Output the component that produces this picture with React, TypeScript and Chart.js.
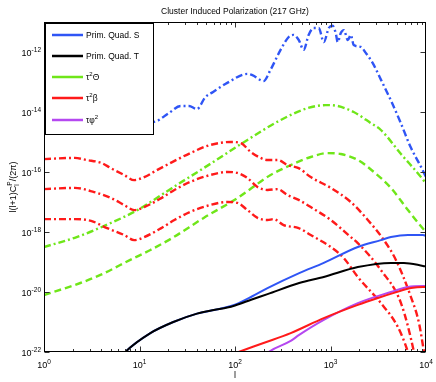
import React, { useEffect, useRef } from "react";
import { Chart, registerables } from "chart.js";
Chart.register(...registerables);

const FONT = '"Liberation Sans", Arial, Helvetica, sans-serif';

const chartTitle = "Cluster Induced Polarization (217 GHz)";
const xAxisLabel = "l";
const xTickExponents = [0, 1, 2, 3, 4];
const yTickExponents = [-22, -20, -18, -16, -14, -12];

// ---- data: multipole l and log10 of l(l+1)C_l/(2pi) ----
const quadSDashL = [1, 5, 10, 14, 20, 27, 33, 40, 49, 59, 83, 135, 152, 199, 235, 300, 365, 410, 465, 524, 590, 667, 753, 850, 960, 1050, 1135, 1190, 1280, 1380, 1520, 1630, 1750, 2080, 2340, 2770, 3380, 4270, 5450, 6900, 8870, 10000];
const quadSDashLog = [-14.0, -14.1, -14.2, -14.33, -14.05, -13.8, -13.8, -13.9, -13.5, -13.33, -13.03, -12.73, -12.77, -12.97, -12.6, -11.93, -11.5, -11.43, -11.6, -11.93, -11.43, -11.2, -11.2, -11.67, -11.2, -11.12, -11.37, -11.67, -11.37, -11.27, -11.6, -11.43, -11.77, -11.83, -12.03, -12.37, -12.93, -13.6, -14.37, -15.17, -15.83, -16.17];

const thetaDashDotL = [1, 2.2, 5, 9.5, 22, 59, 135, 300, 577, 891, 1190, 1750, 2645, 3370, 5470, 9530, 10000];
const thetaDashDotLog = [-18.5, -18.17, -17.7, -17.27, -16.53, -15.67, -14.93, -14.27, -13.87, -13.77, -13.8, -14.0, -14.37, -14.6, -15.4, -16.3, -16.4];

const thetaDashedL = [1, 2.4, 3.9, 8, 13, 22, 47, 106, 236, 383, 621, 935, 1282, 1932, 2845, 4290, 6470, 9530, 10000];
const thetaDashedLog = [-20.1, -19.7, -19.43, -18.93, -18.6, -18.2, -17.53, -16.87, -16.1, -15.77, -15.5, -15.37, -15.4, -15.6, -16.0, -16.53, -17.27, -17.93, -18.0];

const betaDashDot1L = [1, 2.1, 2.8, 4, 5, 6.9, 8.8, 11.2, 15.4, 22, 34, 55, 90, 114, 146, 185, 219, 279, 356, 464, 621, 1006, 1632, 2460, 3625, 4840, 6960, 8440, 9530, 10000];
const betaDashDot1Log = [-15.57, -15.53, -15.6, -15.7, -15.87, -16.1, -16.27, -16.17, -15.93, -15.67, -15.37, -15.1, -15.0, -15.03, -15.33, -15.53, -15.6, -15.6, -15.77, -15.87, -16.17, -16.53, -17.0, -17.6, -18.27, -18.93, -20.17, -21.03, -22.0, -22.4];

const betaDashDot2L = [1, 2.1, 3.35, 5.05, 6.9, 8.8, 11.2, 16.9, 23.2, 34, 55, 83, 106, 135, 172, 219, 279, 356, 464, 621, 1006, 1632, 1932, 3370, 5470, 7480, 8000];
const betaDashDot2Log = [-16.57, -16.53, -16.67, -16.87, -17.1, -17.27, -17.17, -16.87, -16.6, -16.33, -16.1, -16.0, -16.03, -16.2, -16.5, -16.6, -16.57, -16.77, -16.93, -17.17, -17.6, -18.17, -18.37, -19.27, -20.37, -22.0, -22.5];

const betaDashDot3L = [1, 2.1, 3.11, 4.58, 6.9, 8.8, 11.2, 16.9, 23.2, 34, 55, 83, 106, 135, 172, 219, 254, 323, 464, 621, 1006, 1377, 1932, 3370, 5080, 6470, 7000];
const betaDashDot3Log = [-17.57, -17.57, -17.63, -17.87, -18.1, -18.27, -18.17, -17.87, -17.6, -17.33, -17.1, -17.0, -17.03, -17.27, -17.53, -17.6, -17.57, -17.77, -17.87, -18.1, -18.5, -18.87, -19.5, -20.37, -21.17, -22.0, -22.4];

const quadSL = [5, 7.1, 13, 22.6, 40, 60, 83, 100, 150, 219, 470, 850, 1932, 3370, 4290, 6470, 9300, 10000];
const quadSLog = [-22.6, -22.0, -21.37, -21.0, -20.72, -20.6, -20.5, -20.42, -20.15, -19.87, -19.37, -19.03, -18.5, -18.27, -18.17, -18.1, -18.1, -18.13];

const quadTL = [5, 7.1, 13, 22.6, 40, 60, 83, 100, 150, 219, 470, 850, 1932, 4290, 5870, 9300, 10000];
const quadTLog = [-22.6, -22.0, -21.37, -21.0, -20.72, -20.6, -20.52, -20.45, -20.25, -20.07, -19.7, -19.5, -19.17, -19.03, -19.03, -19.13, -19.15];

const betaSolidL = [90, 109, 199, 383, 850, 1932, 3135, 4615, 6960, 9300, 10000];
const betaSolidLog = [-22.1, -22.0, -21.7, -21.37, -20.87, -20.43, -20.2, -20.03, -19.87, -19.83, -19.83];

const phiL = [200, 225, 383, 470, 850, 1932, 4290, 6470, 9300, 10000];
const phiLog = [-22.15, -22.0, -21.63, -21.43, -20.93, -20.37, -20.0, -19.83, -19.8, -19.8];

// ---- styles ----
const BLUE = "#2f55f5";
const BLACK = "#000000";
const GREEN = "#6fe619";
const RED = "#ff1a1a";
const PURPLE = "#b548f0";
const DASHDOT = [7, 3, 2, 3];
const DASHED = [7, 4];

const legendItems = [
  { color: BLUE, segs: [{ t: "Prim. Quad. S" }] },
  { color: BLACK, segs: [{ t: "Prim. Quad. T" }] },
  { color: GREEN, segs: [{ t: "τ" }, { t: "2", sup: true }, { t: "Θ" }] },
  { color: RED, segs: [{ t: "τ" }, { t: "2", sup: true }, { t: "β" }] },
  { color: PURPLE, segs: [{ t: "τφ" }, { t: "2", sup: true }] },
];

function pts(ls: number[], logs: number[]) {
  return ls.map((l, i) => ({ x: l, y: Math.pow(10, logs[i]) }));
}

function ds(label: string, ls: number[], logs: number[], color: string, dash: number[]) {
  return {
    label,
    data: pts(ls, logs),
    borderColor: color,
    backgroundColor: color,
    borderWidth: dash.length ? 2.4 : 2,
    borderDash: dash,
    pointRadius: 0,
    fill: false,
    cubicInterpolationMode: "monotone",
    clip: 0,
  };
}

const BIG = 8.5;
const SMALL = 6;

function font(size: number) {
  return `${size}px ${FONT}`;
}

function richWidth(ctx: any, segs: any[], big: number, small: number) {
  let w = 0;
  for (const s of segs) {
    ctx.font = font(s.sup || s.sub ? small : big);
    w += ctx.measureText(s.t).width;
  }
  return w;
}

function drawRich(ctx: any, segs: any[], x: number, y: number, big: number, small: number) {
  let cx = x;
  for (const s of segs) {
    ctx.font = font(s.sup || s.sub ? small : big);
    const dy = s.sup ? -4.5 : s.sub ? 2.5 : 0;
    ctx.fillText(s.t, cx, y + dy);
    cx += ctx.measureText(s.t).width;
  }
  return cx - x;
}

const decorPlugin = {
  id: "decor",
  afterDatasetsDraw(chart: any) {
    const ctx = chart.ctx;
    const { left, right, top, bottom } = chart.chartArea;
    const xs = chart.scales.x;
    const ys = chart.scales.y;
    ctx.save();
    ctx.fillStyle = "#000";
    ctx.strokeStyle = "#000";
    ctx.lineWidth = 1;
    ctx.setLineDash([]);
    ctx.textBaseline = "alphabetic";
    ctx.textAlign = "left";

    const L = Math.round(left) + 0.5;
    const R = Math.round(right) - 0.5;
    const T = Math.round(top) + 0.5;
    const B = Math.round(bottom) - 0.5;

    // ticks x
    ctx.strokeStyle = "#333";
    ctx.beginPath();
    for (let e = 0; e < 4; e++) {
      for (let m = 1; m <= 9; m++) {
        const v = m * Math.pow(10, e);
        const px = Math.round(xs.getPixelForValue(v)) + 0.5;
        const len = m === 1 ? 5 : 2.5;
        ctx.moveTo(px, B);
        ctx.lineTo(px, B - len);
        ctx.moveTo(px, T);
        ctx.lineTo(px, T + len);
      }
    }
    for (const e of yTickExponents) {
      const py = Math.round(ys.getPixelForValue(Math.pow(10, e))) + 0.5;
      ctx.moveTo(L, py);
      ctx.lineTo(L + 5, py);
      ctx.moveTo(R, py);
      ctx.lineTo(R - 5, py);
    }
    ctx.stroke();

    // frame
    ctx.strokeStyle = "#000";
    ctx.strokeRect(L, T, R - L, B - T);

    const TB = 9, TS = 6.5;
    // x tick labels
    for (const e of xTickExponents) {
      const segs = [{ t: "10" }, { t: String(e), sup: true }];
      const w = richWidth(ctx, segs, TB, TS);
      const px = xs.getPixelForValue(Math.pow(10, e));
      drawRich(ctx, segs, px - w / 2, bottom + 16, TB, TS);
    }
    // y tick labels
    for (const e of yTickExponents) {
      const segs = [{ t: "10" }, { t: String(e), sup: true }];
      const w = richWidth(ctx, segs, TB, TS);
      const py = ys.getPixelForValue(Math.pow(10, e));
      drawRich(ctx, segs, left - 3 - w, py + 4, TB, TS);
    }

    // title
    ctx.font = font(BIG);
    ctx.textAlign = "center";
    ctx.fillText(chartTitle, (left + right) / 2, 14);
    // x label
    ctx.font = font(9);
    ctx.fillText(xAxisLabel, (left + right) / 2, bottom + 26);
    ctx.textAlign = "left";

    // y label
    ctx.save();
    ctx.translate(16, (top + bottom) / 2);
    ctx.rotate(-Math.PI / 2);
    const YB = 9, YS = 6.5;
    ctx.font = font(YB);
    const p1 = "l(l+1)C";
    const p3 = "/(2π)";
    const w1 = ctx.measureText(p1).width;
    const w3 = ctx.measureText(p3).width;
    ctx.font = font(YS);
    const wP = ctx.measureText("P").width;
    const total = w1 + wP + w3;
    let cx = -total / 2;
    ctx.font = font(YB);
    ctx.fillText(p1, cx, 0);
    cx += w1;
    ctx.font = font(YS);
    ctx.fillText("P", cx, -4.5);
    ctx.fillText("l", cx, 2.5);
    cx += wP;
    ctx.font = font(YB);
    ctx.fillText(p3, cx, 0);
    ctx.restore();

    // legend
    const bx = 45.5, by = 23.5, bw = 108, bh = 111;
    ctx.fillStyle = "#fff";
    ctx.fillRect(bx, by, bw, bh);
    ctx.strokeStyle = "#000";
    ctx.lineWidth = 1;
    ctx.strokeRect(bx, by, bw, bh);
    const rowY = [35, 56, 77, 98, 120];
    legendItems.forEach((it, i) => {
      const y = rowY[i];
      ctx.strokeStyle = it.color;
      ctx.lineWidth = 2.5;
      ctx.beginPath();
      ctx.moveTo(52, y);
      ctx.lineTo(83, y);
      ctx.stroke();
      ctx.fillStyle = "#000";
      drawRich(ctx, it.segs, 86, y + 3, BIG, SMALL);
    });
    ctx.restore();
  },
};

export default function App() {
  const ref = useRef<HTMLCanvasElement | null>(null);
  useEffect(() => {
    if (!ref.current) return;
    const chart = new Chart(ref.current, {
      type: "line",
      data: {
        datasets: [
          ds("Prim. Quad. T", quadTL, quadTLog, BLACK, []),
          ds("Prim. Quad. S", quadSL, quadSLog, BLUE, []),
          ds("τ²β", betaSolidL, betaSolidLog, RED, []),
          ds("τφ²", phiL, phiLog, PURPLE, []),
          ds("τ²β 1", betaDashDot1L, betaDashDot1Log, RED, DASHDOT),
          ds("τ²β 2", betaDashDot2L, betaDashDot2Log, RED, DASHDOT),
          ds("τ²β 3", betaDashDot3L, betaDashDot3Log, RED, DASHDOT),
          ds("τ²Θ dashed", thetaDashedL, thetaDashedLog, GREEN, DASHED),
          ds("τ²Θ dash-dot", thetaDashDotL, thetaDashDotLog, GREEN, DASHDOT),
          ds("Prim. Quad. S dash-dot", quadSDashL, quadSDashLog, BLUE, DASHDOT),
        ] as any,
      },
      options: {
        animation: false,
        responsive: false,
        devicePixelRatio: 1,
        parsing: false as any,
        layout: { padding: { left: 44, right: 10, top: 22, bottom: 30 } },
        plugins: { legend: { display: false }, tooltip: { enabled: false }, title: { display: false } },
        scales: {
          x: { type: "logarithmic", min: 1, max: 10000, display: false },
          y: { type: "logarithmic", min: 1e-22, max: 1e-11, display: false },
        },
        events: [],
      } as any,
      plugins: [decorPlugin],
    });
    return () => chart.destroy();
  }, []);
  return (
    <div style={{ position: "fixed", left: 0, top: 0, width: 436, height: 382, background: "#fff" }}>
      <canvas ref={ref} width={436} height={382} style={{ display: "block" }} />
    </div>
  );
}
